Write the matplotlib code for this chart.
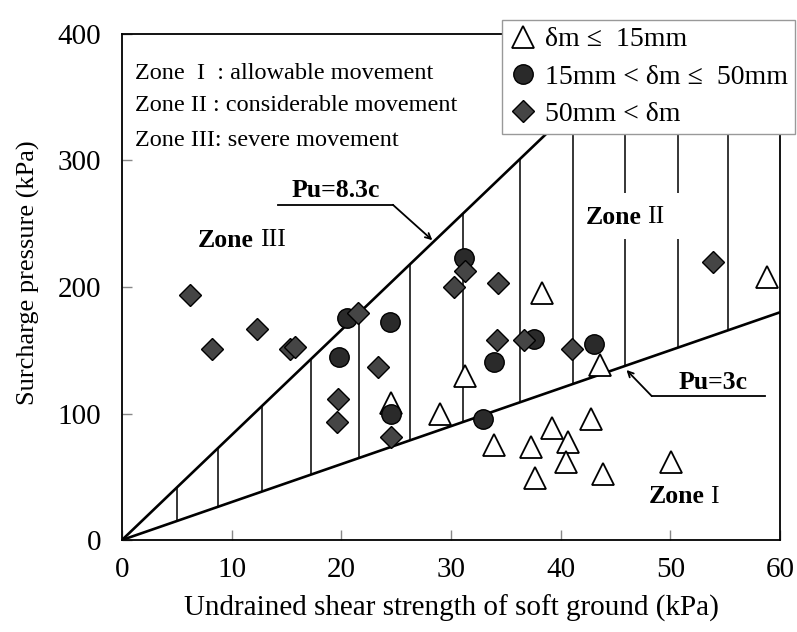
import numpy as np
import matplotlib.pyplot as plt

plt.rcParams['font.family'] = ['Liberation Serif', 'DejaVu Serif']

# undrained shear strength c (kPa) and surcharge pressure p (kPa), by max. lateral movement
tri_c = [24.5, 29.0, 31.3, 38.3, 43.6, 58.8, 33.9, 37.3, 37.7, 39.2, 40.7, 40.5, 42.8, 43.9, 50.1]
tri_p = [108, 100, 130, 195, 138, 208, 75, 73.5, 49, 88.5, 77.5, 61.7, 95.6, 52, 61.7]

cir_c = [20.5, 24.4, 19.8, 31.2, 33.9, 37.6, 43.0, 32.9, 24.5]
cir_p = [175.5, 172, 144.7, 223, 140.7, 158.9, 155, 95.6, 100]

dia_c = [6.2, 8.2, 12.3, 15.3, 15.8, 21.5, 23.3, 19.7, 19.6, 24.5,
         30.3, 31.3, 34.3, 34.2, 36.7, 41.0, 53.9]
dia_p = [193.7, 151, 166.8, 151, 152.6, 179.5, 137, 111.5, 93, 81.7,
         200, 212.6, 203, 158, 158, 151, 220]

# boundaries Pu = k*c
k_upper = 8.3
k_lower = 3.0

# hatching of zone II
hatch_c = [5.0, 8.75, 12.8, 17.2, 21.6, 26.3, 31.1, 36.3, 41.1, 45.9, 50.7, 55.3]

zone_notes = ['Zone  I  : allowable movement',
              'Zone II : considerable movement',
              'Zone III: severe movement']

legend_labels = ['\u03b4m \u2264  15mm', '15mm < \u03b4m \u2264  50mm', '50mm < \u03b4m']


fig = plt.figure(figsize=(7.97, 6.32), dpi=100)
ax = fig.add_axes([122/797, 1-540/632, 658/797, 506/632])
ax.set_xlim(0, 60)
ax.set_ylim(0, 400)

# zone boundaries
cc = np.array([0, 60])
ax.plot(cc, k_lower*cc, color='k', lw=1.9, zorder=2)
ax.plot([0, 400/k_upper], [0, 400], color='k', lw=1.9, zorder=2)

# vertical hatching, broken around the zone II label
for x in hatch_c:
    lo, hi = k_lower*x, min(k_upper*x, 400)
    if 41.5 < x < 51:
        ax.vlines(x, lo, 238, color='k', lw=1.1, zorder=1)
        ax.vlines(x, 274, hi, color='k', lw=1.1, zorder=1)
    else:
        ax.vlines(x, lo, hi, color='k', lw=1.1, zorder=1)

ax.plot(tri_c, tri_p, ls='none', marker='^', ms=16, mfc='white', mec='k', mew=1.3,
        label=legend_labels[0], zorder=3)
ax.plot(cir_c, cir_p, ls='none', marker='o', ms=14, mfc='#2a2a2a', mec='k', mew=1.0,
        label=legend_labels[1], zorder=4)
ax.plot(dia_c, dia_p, ls='none', marker='D', ms=11, mfc='#454545', mec='k', mew=1.0,
        label=legend_labels[2], zorder=5)

# zone notes
for yy, s in zip([369, 343.5, 316], zone_notes):
    ax.text(1.2, yy, s, fontsize=17.5, va='center', ha='left')

def zone_label(x, y, num):
    ax.annotate('Zone', (x, y), xytext=(-2, 0), textcoords='offset points',
                ha='right', va='center', fontsize=18.5, fontweight='bold')
    ax.annotate(num, (x, y), xytext=(2, 0), textcoords='offset points',
                ha='left', va='center', fontsize=18.5)

zone_label(12.3, 237, 'III')
zone_label(47.6, 255, 'II')
zone_label(53.4, 34, 'I')

# Pu = 8.3c callout
ax.text(19.5, 267, 'Pu=8.3c', fontsize=18.5, fontweight='bold', ha='center', va='bottom')
ax.plot([14.2, 24.7], [265, 265], color='k', lw=1.3)
ax.annotate('', xy=(28.3, 237), xytext=(24.7, 265),
            arrowprops=dict(arrowstyle='->', color='k', lw=1.3, shrinkA=0, shrinkB=0))

# Pu = 3c callout
ax.text(53.9, 115.5, 'Pu=3c', fontsize=18.5, fontweight='bold', ha='center', va='bottom')
ax.plot([48.3, 58.6], [113.8, 113.8], color='k', lw=1.3)
ax.annotate('', xy=(46.0, 134.4), xytext=(48.3, 113.8),
            arrowprops=dict(arrowstyle='->', color='k', lw=1.3, shrinkA=0, shrinkB=0))

ax.set_xticks(range(0, 61, 10))
ax.set_yticks(range(0, 401, 100))
ax.tick_params(direction='in', length=7, width=1, color='#888888', labelsize=21, pad=12)
ax.tick_params(axis='y', pad=15)
for sp in ax.spines.values():
    sp.set_linewidth(1.3)
ax.set_xlabel('Undrained shear strength of soft ground (kPa)', fontsize=21, labelpad=9)
ax.set_ylabel('Surcharge pressure (kPa)', fontsize=19)
ax.yaxis.set_label_coords(-0.125, 0.528)

leg = ax.legend(loc='upper right', bbox_to_anchor=(795/797, 1-20/632),
                bbox_transform=fig.transFigure, fontsize=20, fancybox=False,
                edgecolor='#999999', framealpha=1, borderaxespad=0, borderpad=0.25,
                handlelength=1.0, handletextpad=0.3, labelspacing=0.42)
leg.set_zorder(10)
leg.get_frame().set_linewidth(1.0)

plt.savefig('out.png', dpi=100)
